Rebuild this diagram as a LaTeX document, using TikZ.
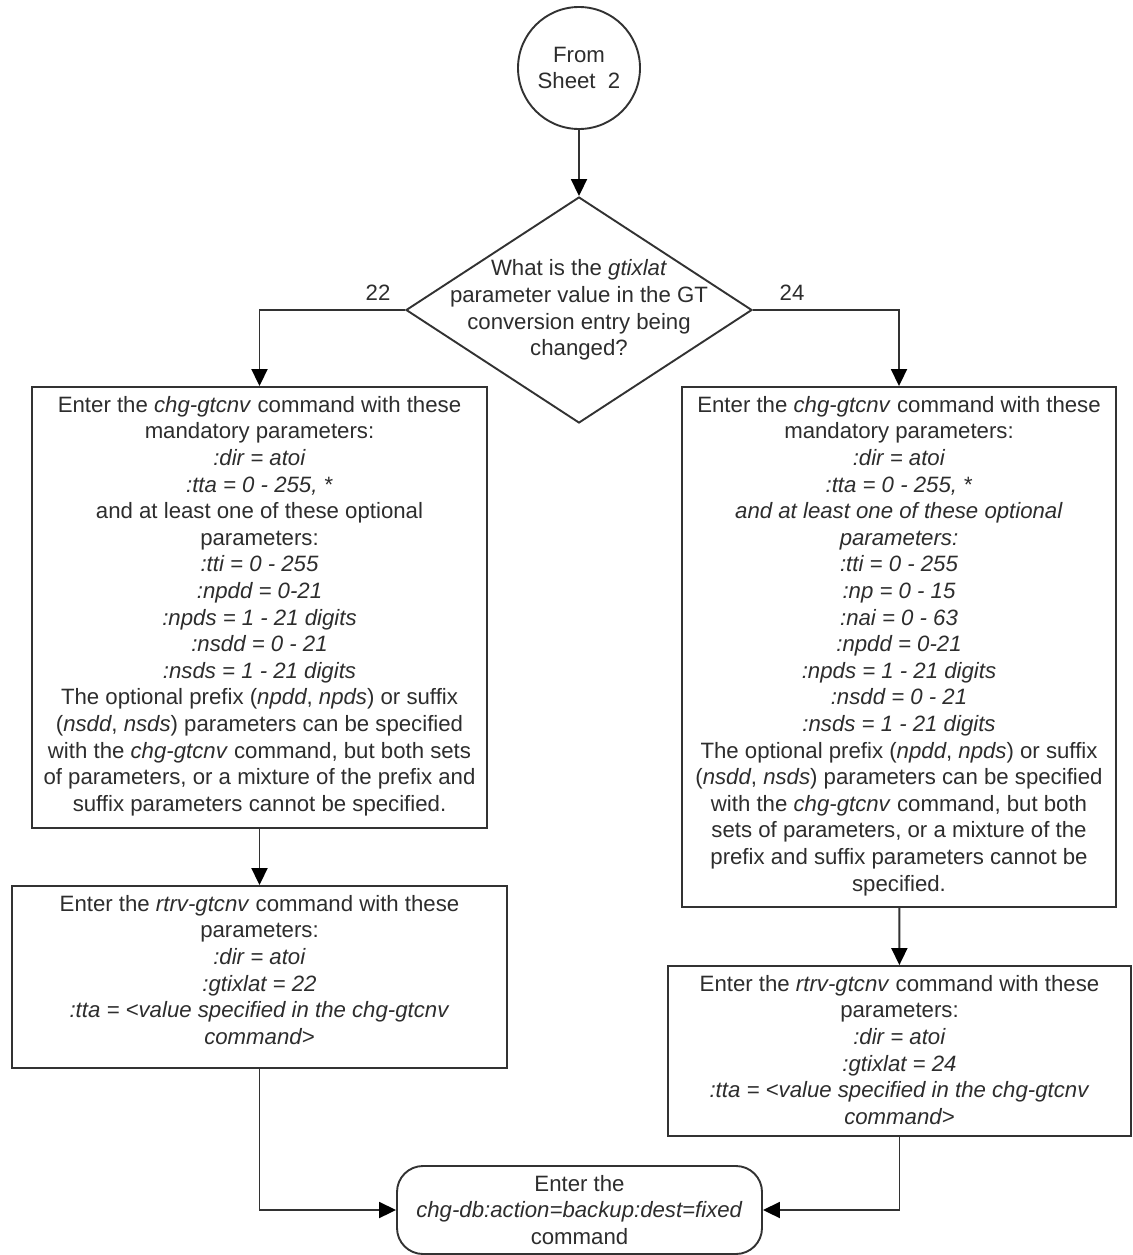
\documentclass[tikz,border=0pt]{standalone}
\usepackage{fontspec}
\setmainfont{Liberation Sans}
\usetikzlibrary{shapes.geometric,arrows.meta}
\definecolor{ink}{RGB}{45,45,45}
\definecolor{edge}{RGB}{50,50,50}
\begin{document}
\begin{tikzpicture}[x=1pt,y=-1pt,
  every node/.style={text=ink,font=\fontsize{22.2}{26.6}\selectfont},
  boxshape/.style={draw=edge,line width=1.9pt,rectangle,inner sep=0pt},
  txt/.style={align=center,inner sep=0pt,anchor=north},
  arr/.style={draw=edge,line width=1.9pt,-{Triangle[length=17pt,width=16pt,color=black]}},
  lbl/.style={inner sep=0pt}
]
\useasboundingbox[fill=white] (0,0) rectangle (1132,1255);

% start circle
\node[circle,draw=edge,line width=1.9pt,minimum size=122pt,inner sep=0pt,align=center] (c) at (579,68) {From\\Sheet~ 2};

% decision diamond
\node[diamond,draw=edge,line width=1.9pt,minimum width=346pt,minimum height=226pt,inner sep=0pt] (d) at (579,310) {};
\node[align=center,inner sep=0pt] (dt) at (579,310) {What is the \textit{gtixlat}\\parameter value in the GT\\conversion entry being\\changed?};

% left chg box
\node[boxshape,minimum width=455pt,minimum height=441pt] (b1) at (259.5,607.5) {};
\node[txt] (b1t) at (259.5,396) {Enter the \textit{chg-gtcnv} command with these\\
mandatory parameters:\\
\textit{:dir = atoi}\\
\textit{:tta = 0 - 255, *}\\
and at least one of these optional\\
parameters:\\
\textit{:tti = 0 - 255}\\
\textit{:npdd = 0-21}\\
\textit{:npds = 1 - 21 digits}\\
\textit{:nsdd = 0 - 21}\\
\textit{:nsds = 1 - 21 digits}\\
The optional prefix (\textit{npdd}, \textit{npds}) or suffix\\
(\textit{nsdd}, \textit{nsds}) parameters can be specified\\
with the \textit{chg-gtcnv} command, but both sets\\
of parameters, or a mixture of the prefix and\\
suffix parameters cannot be specified.};

% left rtrv box
\node[boxshape,minimum width=495pt,minimum height=182pt] (b2) at (259.5,977) {};
\node[txt] (b2t) at (259.5,895) {Enter the \textit{rtrv-gtcnv} command with these\\
parameters:\\
\textit{:dir = atoi}\\
\textit{:gtixlat = 22}\\
\textit{:tta = <value specified in the chg-gtcnv}\\
\textit{command>}};

% right chg box
\node[boxshape,minimum width=434pt,minimum height=520pt] (b3) at (899,647) {};
\node[txt] (b3t) at (899,396) {Enter the \textit{chg-gtcnv} command with these\\
mandatory parameters:\\
\textit{:dir = atoi}\\
\textit{:tta = 0 - 255, *}\\
\textit{and at least one of these optional}\\
\textit{parameters:}\\
\textit{:tti = 0 - 255}\\
\textit{:np = 0 - 15}\\
\textit{:nai = 0 - 63}\\
\textit{:npdd = 0-21}\\
\textit{:npds = 1 - 21 digits}\\
\textit{:nsdd = 0 - 21}\\
\textit{:nsds = 1 - 21 digits}\\
The optional prefix (\textit{npdd}, \textit{npds}) or suffix\\
(\textit{nsdd}, \textit{nsds}) parameters can be specified\\
with the \textit{chg-gtcnv} command, but both\\
sets of parameters, or a mixture of the\\
prefix and suffix parameters cannot be\\
specified.};

% right rtrv box
\node[boxshape,minimum width=463pt,minimum height=170pt] (b4) at (899.5,1051) {};
\node[txt] (b4t) at (899.5,975) {Enter the \textit{rtrv-gtcnv} command with these\\
parameters:\\
\textit{:dir = atoi}\\
\textit{:gtixlat = 24}\\
\textit{:tta = <value specified in the chg-gtcnv}\\
\textit{command>}};

% end box
\node[draw=edge,line width=1.9pt,rectangle,rounded corners=26pt,minimum width=365pt,minimum height=88pt,inner sep=0pt,align=center] (e) at (579.5,1210) {Enter the\\\textit{chg-db:action=backup:dest=fixed}\\command};

% labels
\node[lbl] (l22) at (378,293) {22};
\node[lbl] (l24) at (792,293) {24};

% connectors
\draw[arr] (c) -- (d);
\draw[arr] (d.west) -| (b1.north);
\draw[arr] (d.east) -| (b3.north);
\draw[arr] (b1) -- (b2);
\draw[arr] (b3) -- (b4);
\draw[arr] (b2.south) |- (e.west);
\draw[arr] (b4.south) |- (e.east);
\end{tikzpicture}
\end{document}
